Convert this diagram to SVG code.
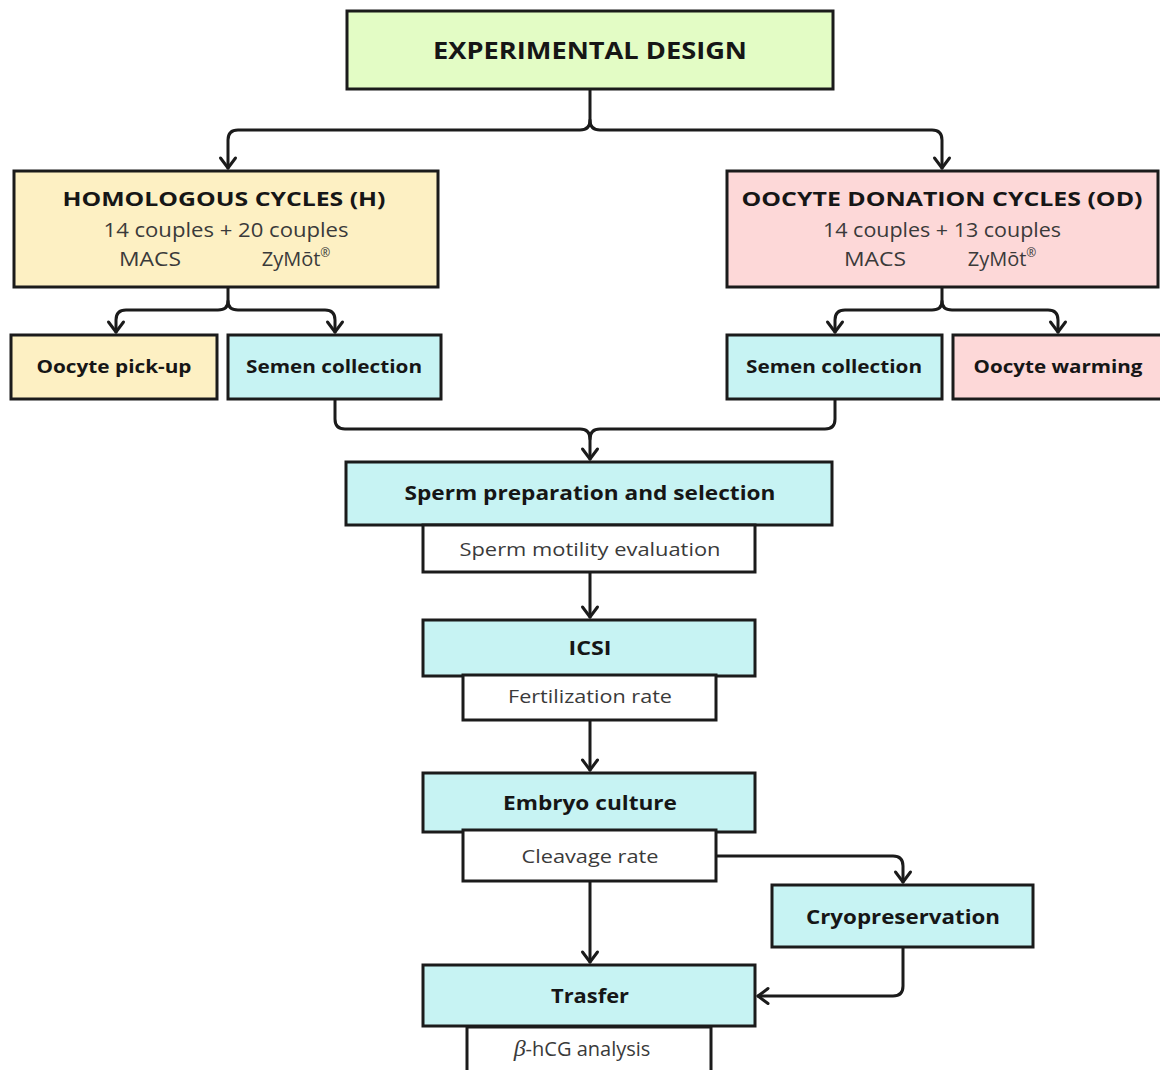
<svg xmlns="http://www.w3.org/2000/svg" width="1160" height="1070" viewBox="0 0 1160 1070">
<defs>
<marker id="arr" markerUnits="userSpaceOnUse" viewBox="-14 -10 18 20" markerWidth="18" markerHeight="20" refX="0" refY="0" orient="auto">
<path d="M-10,-7.5 L0,0 L-10,7.5" fill="none" stroke="#1b1b1b" stroke-width="3" stroke-linecap="round" stroke-linejoin="round"/>
</marker>
<style>
.box{stroke:#1b1b1b;stroke-width:3}
.g{fill:#e3fcc5}.y{fill:#fdf0c3}.p{fill:#fdd8d8}.c{fill:#c7f3f3}.w{fill:#ffffff}
.t{font-family:"Open Sans","Liberation Sans",sans-serif;font-weight:700;fill:#161616;text-anchor:middle}
.r{font-family:"Open Sans","Liberation Sans",sans-serif;font-weight:400;fill:#3a3a3a;text-anchor:middle}
.ln{fill:none;stroke:#1b1b1b;stroke-width:3;stroke-linecap:round;stroke-linejoin:round}
</style>
</defs>
<rect width="1160" height="1070" fill="#ffffff"/>
<g id="connectors">
<path class="ln" d="M590,89 V120 Q590,130 580,130 H238 Q228,130 228,140 V168" marker-end="url(#arr)"/>
<path class="ln" d="M590,120 Q590,130 600,130 H932 Q942,130 942,140 V168" marker-end="url(#arr)"/>
<path class="ln" d="M228,287 V301 Q228,310 218,310 H126 Q116,310 116,320 V332" marker-end="url(#arr)"/>
<path class="ln" d="M228,301 Q228,310 238,310 H325 Q335,310 335,320 V332" marker-end="url(#arr)"/>
<path class="ln" d="M942,287 V301 Q942,310 932,310 H845 Q835,310 835,320 V332" marker-end="url(#arr)"/>
<path class="ln" d="M942,301 Q942,310 952,310 H1048 Q1058,310 1058,320 V332" marker-end="url(#arr)"/>
<path class="ln" d="M335,399 V419 Q335,429 345,429 H580 Q590,429 590,439"/>
<path class="ln" d="M835,399 V419 Q835,429 825,429 H600 Q590,429 590,439 V459" marker-end="url(#arr)"/>
<path class="ln" d="M590,572 V617" marker-end="url(#arr)"/>
<path class="ln" d="M590,720 V770" marker-end="url(#arr)"/>
<path class="ln" d="M590,881 V962" marker-end="url(#arr)"/>
<path class="ln" d="M716,856 H893 Q903,856 903,866 V882" marker-end="url(#arr)"/>
<path class="ln" d="M903,947 V986 Q903,996 893,996 H758" marker-end="url(#arr)"/>
</g>
<g id="experimental-design">
<rect class="box g" x="347" y="11" width="486" height="78"/>
<text class="t" x="590" y="59" font-size="23" textLength="314" lengthAdjust="spacingAndGlyphs">EXPERIMENTAL DESIGN</text>
</g>
<g id="homologous">
<rect class="box y" x="14" y="171" width="424" height="116"/>
<text class="t" x="224" y="206" font-size="20" textLength="323" lengthAdjust="spacingAndGlyphs">HOMOLOGOUS CYCLES (H)</text>
<text class="r" x="226" y="237" font-size="20" textLength="245" lengthAdjust="spacingAndGlyphs">14 couples + 20 couples</text>
<text class="r" x="150" y="266" font-size="20" textLength="62" lengthAdjust="spacingAndGlyphs">MACS</text>
<text class="r" x="296" y="266" font-size="20"><tspan>ZyMōt</tspan><tspan font-size="12" dy="-9">®</tspan></text>
</g>
<g id="oocyte-donation">
<rect class="box p" x="727" y="171" width="431" height="116"/>
<text class="t" x="942" y="206" font-size="20" textLength="401" lengthAdjust="spacingAndGlyphs">OOCYTE DONATION CYCLES (OD)</text>
<text class="r" x="942" y="237" font-size="20" textLength="238" lengthAdjust="spacingAndGlyphs">14 couples + 13 couples</text>
<text class="r" x="875" y="266" font-size="20" textLength="62" lengthAdjust="spacingAndGlyphs">MACS</text>
<text class="r" x="1002" y="266" font-size="20"><tspan>ZyMōt</tspan><tspan font-size="12" dy="-9">®</tspan></text>
</g>
<g id="oocyte-pickup">
<rect class="box y" x="11" y="335" width="206" height="64"/>
<text class="t" x="114" y="373" font-size="18" textLength="155" lengthAdjust="spacingAndGlyphs">Oocyte pick-up</text>
</g>
<g id="semen-h">
<rect class="box c" x="228" y="335" width="213" height="64"/>
<text class="t" x="334" y="373" font-size="18" textLength="176" lengthAdjust="spacingAndGlyphs">Semen collection</text>
</g>
<g id="semen-od">
<rect class="box c" x="727" y="335" width="215" height="64"/>
<text class="t" x="834" y="373" font-size="18" textLength="176" lengthAdjust="spacingAndGlyphs">Semen collection</text>
</g>
<g id="oocyte-warming">
<rect class="box p" x="953" y="335" width="210" height="64"/>
<text class="t" x="1058" y="373" font-size="18" textLength="169" lengthAdjust="spacingAndGlyphs">Oocyte warming</text>
</g>
<g id="sperm-prep">
<rect class="box c" x="346" y="462" width="486" height="63"/>
<text class="t" x="590" y="500" font-size="20" textLength="371" lengthAdjust="spacingAndGlyphs">Sperm preparation and selection</text>
</g>
<g id="sperm-motility">
<rect class="box w" x="423" y="525" width="332" height="47"/>
<text class="r" x="590" y="556" font-size="19" textLength="261" lengthAdjust="spacingAndGlyphs">Sperm motility evaluation</text>
</g>
<g id="icsi">
<rect class="box c" x="423" y="620" width="332" height="56"/>
<text class="t" x="590" y="655" font-size="20" textLength="43" lengthAdjust="spacingAndGlyphs">ICSI</text>
</g>
<g id="fertilization">
<rect class="box w" x="463" y="675" width="253" height="45"/>
<text class="r" x="590" y="703" font-size="19" textLength="164" lengthAdjust="spacingAndGlyphs">Fertilization rate</text>
</g>
<g id="embryo-culture">
<rect class="box c" x="423" y="773" width="332" height="59"/>
<text class="t" x="590" y="810" font-size="20" textLength="174" lengthAdjust="spacingAndGlyphs">Embryo culture</text>
</g>
<g id="cleavage">
<rect class="box w" x="463" y="830" width="253" height="51"/>
<text class="r" x="590" y="863" font-size="19" textLength="137" lengthAdjust="spacingAndGlyphs">Cleavage rate</text>
</g>
<g id="cryopreservation">
<rect class="box c" x="772" y="885" width="261" height="62"/>
<text class="t" x="903" y="924" font-size="20" textLength="194" lengthAdjust="spacingAndGlyphs">Cryopreservation</text>
</g>
<g id="trasfer">
<rect class="box c" x="423" y="965" width="332" height="61"/>
<text class="t" x="590" y="1003" font-size="20" textLength="78" lengthAdjust="spacingAndGlyphs">Trasfer</text>
</g>
<g id="bhcg">
<rect class="box w" x="467" y="1027" width="244" height="48"/>
<text class="r" x="582" y="1056" font-size="20"><tspan font-family="'Liberation Serif',serif" font-style="italic" font-size="24">β</tspan>-hCG analysis</text>
</g>
</svg>
